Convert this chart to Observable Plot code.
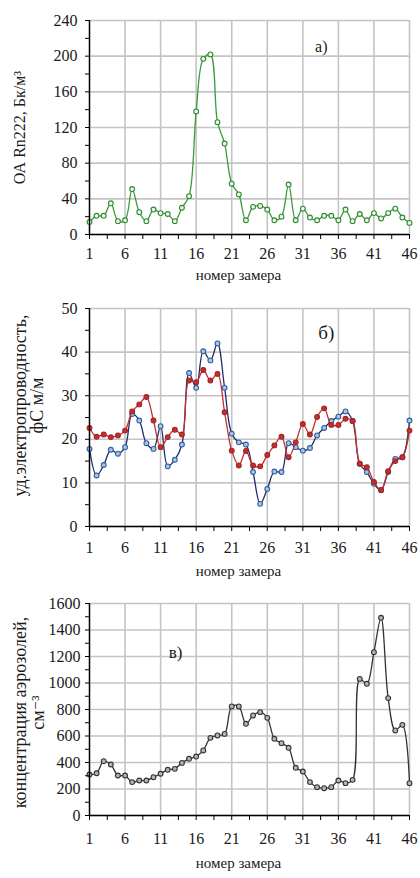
<!DOCTYPE html>
<html><head><meta charset="utf-8">
<script src="https://cdn.jsdelivr.net/npm/d3@7"></script>
<script src="https://cdn.jsdelivr.net/npm/@observablehq/plot@0.6"></script>
<style>
body{margin:0;background:#fff;}
#chart{width:420px;height:878px;overflow:hidden;}
#chart svg{display:block;}
#chart svg, #chart svg text, #chart svg tspan{font-family:"Liberation Serif", "DejaVu Serif", serif !important;}
</style></head><body><div id="chart"></div>
<script>
// ---- data ----
const measure = d3.range(1, 47); // номер замера 1..46
const rn222 = [14,21,21,35,15,16,51,25,15,28,24,23,15,30,43,138,197,202,126,102,57,45,16,31,32,28,16,20,56,16,29,19,16,21,21,16,28,15,23,16,24,18,24,29,19,13];
const condBlue = [17.8,11.7,14.1,17.6,16.7,18.2,25.8,24.3,19.1,17.8,23.0,13.8,15.3,18.8,35.2,31.8,40.2,38.1,42.0,31.8,21.3,19.3,18.8,12.5,5.2,8.6,12.6,12.5,19.1,18.2,17.4,18.0,20.9,22.6,24.2,25.2,26.4,24.2,14.4,12.5,9.8,8.3,12.5,15.5,15.9,24.3];
const condRed = [22.6,20.6,21.1,20.5,20.9,22.0,26.4,28.0,29.7,24.3,18.2,20.5,22.2,21.1,33.5,33.1,35.9,33.5,35.0,26.2,17.4,14.0,17.3,14.0,13.8,16.4,18.6,20.6,15.9,19.3,23.5,21.1,25.1,27.1,23.3,23.3,24.7,24.2,14.4,13.6,10.2,8.4,12.7,15.0,15.9,22.0];
const aerosol = [309,319,410,385,302,302,252,264,264,289,315,345,352,397,428,445,491,586,604,616,823,823,692,755,780,737,579,546,511,360,332,252,214,206,214,264,244,269,1031,994,1233,1492,886,642,684,244];

const xTickLabels = [1,6,11,16,21,26,31,36,41,46];
const yTicksA = [0,40,80,120,160,200,240];
const yTicksB = [0,10,20,30,40,50];
const yTicksC = [0,200,400,600,800,1000,1200,1400,1600];

const xTitle = "номер замера";
const yTitleA = "ОА Rn222, Бк/м³";
const yTitleB = "уд.электропроводность,\nфС м/м";
const yTitleC = "концентрация аэрозолей,\nсм⁻³";

const tagA = [{label: "а)", x: 33.6, y: 210}];
const tagB = [{label: "б)", x: 34.3, y: 44.3}];
const tagC = [{label: "в)", x: 13.1, y: 1230}];

const FONT = "Liberation Serif";

function rows(values) { return measure.map((m, i) => ({m, v: values[i]})); }

function panel(o) {
  const yMax = o.yTicks[o.yTicks.length - 1];
  const yStep = o.yTicks[1] - o.yTicks[0];
  const yMinor = d3.range(0, yMax + yStep / 4, yStep / 2);
  const xMinor = d3.range(1, 46.01, 2.5);
  const marks = [
    Plot.ruleX(xTickLabels, {stroke: "#c4c4c4", strokeWidth: 1.6}),
    Plot.ruleY(o.yTicks, {stroke: "#c4c4c4", strokeWidth: 1.6}),
  ];
  for (const s of o.series) {
    const d = rows(s.values);
    marks.push(Plot.line(d, {x: "m", y: "v", curve: "catmull-rom", stroke: s.line, strokeWidth: 1.3}));
    marks.push(Plot.dot(d, {x: "m", y: "v", r: 2.4, stroke: s.mstroke, fill: s.mfill, strokeWidth: 1.1}));
  }
  marks.push(
    Plot.ruleX([1], {stroke: "#000", strokeWidth: 1.4}),
    Plot.ruleY([0], {stroke: "#000", strokeWidth: 1.4}),
    Plot.axisX(xMinor, {tickSize: 5, tickPadding: o.xTickPad, tickFormat: d => xTickLabels.includes(d) ? String(d) : "", fontSize: 16, fontFamily: FONT, label: null, stroke: "#000"}),
    Plot.axisY(yMinor, {tickSize: 4, tickPadding: o.yTickPad, tickFormat: d => o.yTicks.includes(d) ? String(d) : "", fontSize: 16, fontFamily: FONT, label: null, stroke: "#000"}),
    Plot.text([xTitle], {frameAnchor: "bottom", dy: o.xTitleDy, dx: -11, text: d => d, fontSize: 15, fontFamily: FONT}),
    Plot.text([o.yTitle], {frameAnchor: "left", textAnchor: "middle", rotate: -90, dx: o.yTitleDx, dy: o.yTitleDy, text: d => d, fontSize: o.yTitleSize || 16, fontFamily: FONT, lineHeight: o.lineHeight || 1.1}),
    Plot.text(o.tag, {x: "x", y: "y", text: "label", fontSize: o.tagSize, fontFamily: FONT})
  );
  return Plot.plot({
    width: 420, height: o.height,
    marginLeft: 89, marginRight: 11, marginTop: o.marginTop, marginBottom: o.marginBottom,
    x: {domain: [1, 46]},
    y: {domain: [0, yMax]},
    style: {fontFamily: FONT, fontSize: "16px", color: "#1a1a1a", background: "#fff"},
    marks
  });
}

const chart = document.getElementById("chart");
chart.append(panel({
  height: 290, marginTop: 20, marginBottom: 56, yTicks: yTicksA,
  series: [{values: rn222, line: "#3b9a3b", mstroke: "#2d8a2d", mfill: "#eef8ea"}],
  xTickPad: 8, yTickPad: 8, xTitleDy: 45, yTitle: yTitleA, yTitleDx: -70, yTitleDy: 0,
  tag: tagA, tagSize: 16
}));
chart.append(panel({
  height: 300, marginTop: 18, marginBottom: 64, yTicks: yTicksB,
  series: [
    {values: condBlue, line: "#1f2d6b", mstroke: "#2f5f9f", mfill: "#a9c6e6"},
    {values: condRed, line: "#c0302f", mstroke: "#a52222", mfill: "#c0302f"}
  ],
  xTickPad: 10, yTickPad: 8, xTitleDy: 49, yTitle: yTitleB, yTitleSize: 18, yTitleDx: -60.5, yTitleDy: -12, lineHeight: 0.95,
  tag: tagB, tagSize: 19
}));
chart.append(panel({
  height: 288, marginTop: 13, marginBottom: 63, yTicks: yTicksC,
  series: [{values: aerosol, line: "#333", mstroke: "#333", mfill: "#b5b5b5"}],
  xTickPad: 12, yTickPad: 5, xTitleDy: 52, yTitle: yTitleC, yTitleSize: 18, yTitleDx: -60, yTitleDy: 3, lineHeight: 1.0,
  tag: tagC, tagSize: 17
}));
</script></body></html>
